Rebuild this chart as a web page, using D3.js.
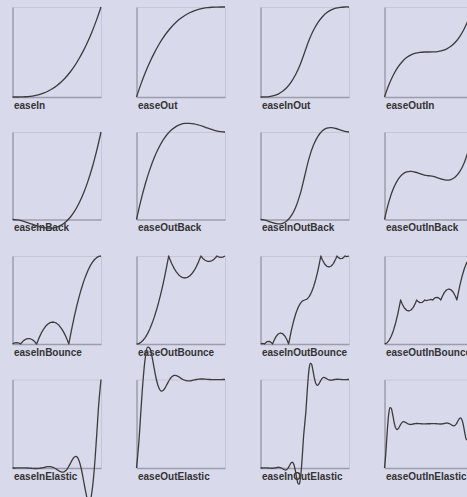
<!DOCTYPE html>
<html>
<head>
<meta charset="utf-8">
<script src="https://cdn.jsdelivr.net/npm/d3@7"></script>
<style>
  html, body { margin: 0; padding: 0; background: #d9d9ec; }
  svg { display: block; }
</style>
</head>
<body>
<svg id="chart" width="467" height="497"></svg>
<script>
// ---------- DATA ----------
const labels = [
  "easeIn", "easeOut", "easeInOut", "easeOutIn",
  "easeInBack", "easeOutBack", "easeInOutBack", "easeOutInBack",
  "easeInBounce", "easeOutBounce", "easeInOutBounce", "easeOutInBounce",
  "easeInElastic", "easeOutElastic", "easeInOutElastic", "easeOutInElastic"
];

// smooth curves, evenly sampled over [0,1]
const easeIn    = [0, 0, 0.001, 0.003, 0.008, 0.016, 0.027, 0.043, 0.064, 0.091, 0.125, 0.166, 0.216, 0.275, 0.343, 0.422, 0.512, 0.614, 0.729, 0.857, 1];
const easeOut   = [0, 0.143, 0.271, 0.386, 0.488, 0.578, 0.657, 0.725, 0.784, 0.834, 0.875, 0.909, 0.936, 0.957, 0.973, 0.984, 0.992, 0.997, 0.999, 1, 1];
const easeInOut = [0, 0.001, 0.004, 0.014, 0.032, 0.063, 0.108, 0.172, 0.256, 0.365, 0.5, 0.636, 0.744, 0.829, 0.892, 0.938, 0.968, 0.987, 0.996, 1, 1];
const easeOutIn = [0, 0.136, 0.244, 0.329, 0.392, 0.438, 0.468, 0.487, 0.496, 0.5, 0.5, 0.501, 0.504, 0.514, 0.532, 0.563, 0.608, 0.672, 0.756, 0.865, 1];

const easeInBack    = [0, -0.004, -0.014, -0.029, -0.046, -0.064, -0.080, -0.093, -0.099, -0.098, -0.088, -0.065, -0.029, 0.023, 0.093, 0.183, 0.294, 0.430, 0.591, 0.781, 1];
const easeOutBack   = [0, 0.219, 0.409, 0.570, 0.706, 0.817, 0.907, 0.977, 1.029, 1.065, 1.088, 1.098, 1.099, 1.093, 1.080, 1.064, 1.046, 1.029, 1.014, 1.004, 1];
const easeInOutBack = [0, -0.007, -0.023, -0.040, -0.050, -0.044, -0.015, 0.046, 0.147, 0.296, 0.5, 0.704, 0.853, 0.954, 1.015, 1.044, 1.050, 1.040, 1.023, 1.007, 1];
const easeOutInBack = [0, 0.204, 0.353, 0.454, 0.515, 0.544, 0.550, 0.540, 0.523, 0.507, 0.5, 0.493, 0.477, 0.460, 0.450, 0.456, 0.485, 0.546, 0.647, 0.796, 1];

// bounce curves: sample positions (incl. the contact points) and values
const tInBounce = [0, .025, .05, .075, .0909, .1, .125, .15, .175, .2, .225, .25, .2727, .275, .3, .325, .35, .375, .4, .425, .45, .475, .5, .525, .55, .575, .6, .625, .6364, .65, .675, .7, .725, .75, .775, .8, .825, .85, .875, .9, .925, .95, .975, 1];
const easeInBounce = [0, .0125, .0155, .009, 0, .0119, .0381, .0548, .0621, .06, .0484, .0273, 0, .0062, .0694, .1231, .1673, .2021, .2275, .2434, .2498, .2468, .2344, .2125, .1811, .1403, .09, .0303, 0, .0736, .2012, .3194, .4281, .5273, .6171, .6975, .7684, .8298, .8818, .9244, .9575, .9811, .9953, 1];

const tOutBounce = [0, .025, .05, .075, .1, .125, .15, .175, .2, .225, .25, .275, .3, .325, .35, .3636, .375, .4, .425, .45, .475, .5, .525, .55, .575, .6, .625, .65, .675, .7, .725, .7273, .75, .775, .8, .825, .85, .875, .9, .9091, .925, .95, .975, 1];
const easeOutBounce = [0, .0047, .0189, .0425, .0756, .1182, .1702, .2316, .3025, .3829, .4727, .5719, .6806, .7988, .9264, 1, .9697, .91, .8597, .8189, .7875, .7656, .7532, .7502, .7566, .7725, .7979, .8327, .8769, .9306, .9938, 1, .9727, .9516, .94, .9379, .9452, .9619, .9881, 1, .991, .9845, .9875, 1];

const tInOutBounce = [0, .025, .0455, .05, .075, .1, .125, .1364, .15, .175, .2, .225, .25, .275, .3, .3182, .325, .35, .375, .4, .425, .45, .475, .5, .525, .55, .575, .6, .625, .65, .675, .6818, .7, .725, .75, .775, .8, .825, .85, .8636, .875, .9, .925, .95, .9545, .975, 1];
const easeInOutBounce = [0, .0077, 0, .0059, .0274, .03, .0137, 0, .0347, .0837, .1138, .1249, .1172, .0905, .045, 0, .0368, .1597, .2637, .3488, .4149, .4622, .4905, .5, .5095, .5378, .5851, .6513, .7363, .8403, .9632, 1, .955, .9095, .8828, .8751, .8863, .9163, .9653, 1, .9863, .97, .9726, .9941, 1, .9923, 1];

const tOutInBounce = [0, .025, .05, .075, .1, .125, .15, .175, .1818, .2, .225, .25, .275, .3, .325, .35, .3636, .375, .4, .425, .45, .4545, .475, .5, .525, .5455, .55, .575, .6, .625, .6364, .65, .675, .7, .725, .75, .775, .8, .8182, .825, .85, .875, .9, .925, .95, .975, 1];
const easeOutInBounce = [0, .0095, .0378, .0851, .1513, .2363, .3403, .4632, .5, .455, .4095, .3828, .3751, .3863, .4163, .4653, .5, .4863, .47, .4726, .4941, .5, .4923, .5, .5077, .5, .5059, .5274, .53, .5137, .5, .5347, .5837, .6138, .6249, .6172, .5905, .545, .5, .5368, .6597, .7637, .8488, .9149, .9622, .9905, 1];

// elastic curves, evenly sampled over [0,1]
const easeInElastic = [0, 0, .0007, .0014, .002, .002, .0014, 0, -.002, -.004, -.0055, -.0057, -.0039, 0, .0055, .0114, .0156, .0161, .011, 0, -.0156, -.0322, -.0442, -.0455, -.0313, 0, .0442, .091, .125, .1287, .0884, 0, -.125, -.2575, -.3536, -.3641, -.25, 0, .3536, .7282, 1];
const easeOutElastic = [0, .2718, .6464, 1, 1.25, 1.3641, 1.3536, 1.2575, 1.125, 1, .9116, .8713, .875, .909, .9558, 1, 1.0313, 1.0455, 1.0442, 1.0322, 1.0156, 1, .989, .9839, .9844, .9886, .9945, 1, 1.0039, 1.0057, 1.0055, 1.004, 1.002, 1, .9986, .998, .998, .9986, .9993, 1, 1];
const easeInOutElastic = [0, 0, .0003, .0007, .001, .001, .0007, 0, -.001, -.002, -.0028, -.0028, -.002, 0, .0028, .0057, .0078, .008, .0055, 0, -.0078, -.0161, -.0221, -.0228, -.0156, 0, .0221, .0455, .0625, .0644, .0442, 0, -.0625, -.1287, -.1768, -.1821, -.125, 0, .1768, .3641, .5,
  .6359, .8232, 1, 1.125, 1.1821, 1.1768, 1.1287, 1.0625, 1, .9558, .9356, .9375, .9545, .9779, 1, 1.0156, 1.0228, 1.0221, 1.0161, 1.0078, 1, .9945, .992, .9922, .9943, .9972, 1, 1.002, 1.0028, 1.0028, 1.002, 1.001, 1, .9993, .999, .999, .9993, .9997, 1, 1];
const easeOutInElastic = [0, .1359, .3232, .5, .625, .6821, .6768, .6287, .5625, .5, .4558, .4356, .4375, .4545, .4779, .5, .5156, .5228, .5221, .5161, .5078, .5, .4945, .492, .4922, .4943, .4972, .5, .502, .5028, .5028, .502, .501, .5, .4993, .499, .499, .4993, .4997, .5, .5,
  .5, .5003, .5007, .501, .501, .5007, .5, .499, .498, .4972, .4972, .498, .5, .5028, .5057, .5078, .508, .5055, .5, .4922, .4839, .4779, .4772, .4844, .5, .5221, .5455, .5625, .5644, .5442, .5, .4375, .3713, .3232, .3179, .375, .5, .6768, .8641, 1];

const seriesValues = [
  easeIn, easeOut, easeInOut, easeOutIn,
  easeInBack, easeOutBack, easeInOutBack, easeOutInBack,
  easeInBounce, easeOutBounce, easeInOutBounce, easeOutInBounce,
  easeInElastic, easeOutElastic, easeInOutElastic, easeOutInElastic
];
const seriesTimes = [
  null, null, null, null,
  null, null, null, null,
  tInBounce, tOutBounce, tInOutBounce, tOutInBounce,
  null, null, null, null
];

// ---------- LAYOUT ----------
const svg = d3.select("#chart");
svg.append("rect").attr("width", 467).attr("height", 497).attr("fill", "#d9d9ec");

const colLeft = c => 12.5 + 124 * c;
const rowTop = [7, 132, 256, 379.5];
const rowBottom = [97, 219.5, 344, 468];
const cellW = 88.5;

const frames = svg.append("g");
const texts = svg.append("g");
const curves = svg.append("g");

labels.forEach((name, i) => {
  const c = i % 4, r = Math.floor(i / 4);
  const x = d3.scaleLinear().domain([0, 1]).range([colLeft(c), colLeft(c) + cellW]);
  const y = d3.scaleLinear().domain([0, 1]).range([rowBottom[r], rowTop[r]]);

  // light top / right frame
  const top = frames.append("g").attr("transform", `translate(0,${y(1)})`)
    .call(d3.axisTop(x).tickValues([]).tickSizeOuter(0));
  const right = frames.append("g").attr("transform", `translate(${x(1)},0)`)
    .call(d3.axisRight(y).tickValues([]).tickSizeOuter(0));
  [top, right].forEach(g => g.select(".domain").attr("stroke", "#c6c6d6").attr("stroke-width", 1));

  // darker left / bottom axes
  const bottom = frames.append("g").attr("transform", `translate(0,${y(0)})`)
    .call(d3.axisBottom(x).tickValues([]).tickSizeOuter(0));
  const left = frames.append("g").attr("transform", `translate(${x(0)},0)`)
    .call(d3.axisLeft(y).tickValues([]).tickSizeOuter(0));
  [bottom, left].forEach(g => g.select(".domain").attr("stroke", "#9c9cab").attr("stroke-width", 1.5));

  texts.append("text")
    .attr("x", x(0) + 1.5)
    .attr("y", y(0) + 11.5)
    .attr("font-family", "Liberation Sans, Arial, sans-serif")
    .attr("font-weight", "bold")
    .attr("font-size", 10)
    .attr("fill", "#333")
    .text(name);

  const vals = seriesValues[i];
  const times = seriesTimes[i];
  const idx = d3.scaleLinear().domain([0, vals.length - 1]).range([0, 1]);
  const pts = vals.map((v, k) => [times ? times[k] : idx(k), v]);
  const line = d3.line()
    .x(d => x(d[0]))
    .y(d => y(d[1]))
    .curve(times ? d3.curveLinear : d3.curveCatmullRom.alpha(0.5));

  curves.append("path")
    .attr("d", line(pts))
    .attr("fill", "none")
    .attr("stroke", "#3c3c3c")
    .attr("stroke-width", 1.3)
    .attr("stroke-linejoin", "round");
});
</script>
</body>
</html>
